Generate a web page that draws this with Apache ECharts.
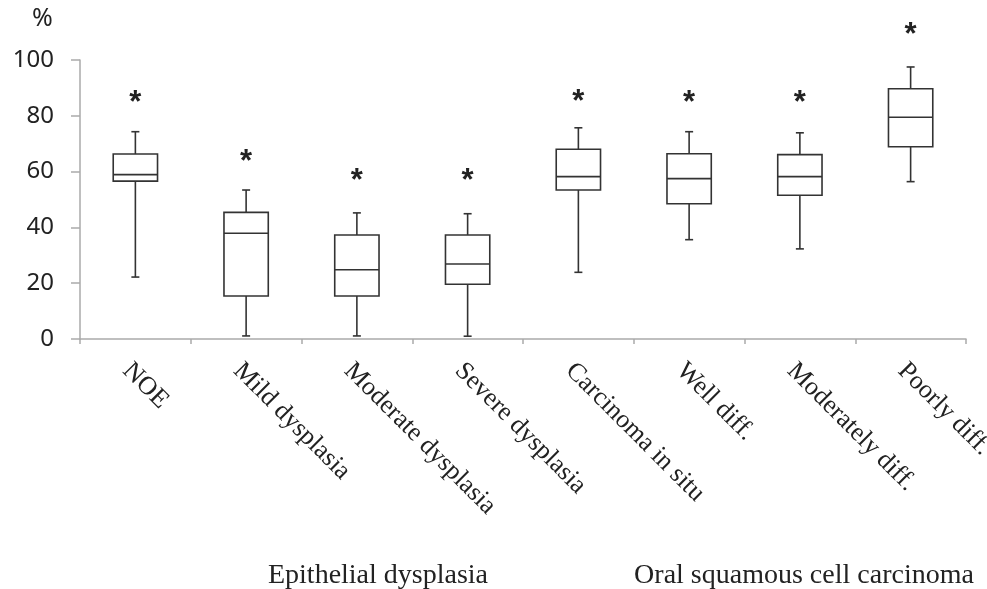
<!DOCTYPE html>
<html>
<head>
<meta charset="utf-8">
<script src="https://cdn.jsdelivr.net/npm/echarts@6/dist/echarts.min.js"></script>
<style>html,body{margin:0;padding:0;background:#fff}#c{width:987px;height:589px}</style>
</head>
<body>
<div id="c"></div>
<script>
var categories = ['NOE','Mild dysplasia','Moderate dysplasia','Severe dysplasia','Carcinoma in situ','Well diff.','Moderately diff.','Poorly diff.'];
var whiskerLow  = [22.2, 1.1, 1.1, 1.0, 23.9, 35.6, 32.3, 56.4];
var q1          = [56.6, 15.4, 15.4, 19.6, 53.4, 48.5, 51.5, 68.9];
var median      = [58.9, 37.9, 24.8, 26.9, 58.2, 57.5, 58.2, 79.5];
var q3          = [66.3, 45.4, 37.3, 37.3, 68.0, 66.4, 66.1, 89.7];
var whiskerHigh = [74.3, 53.4, 45.2, 44.9, 75.7, 74.3, 73.9, 97.5];
var asteriskAt  = [86.3, 65.0, 58.2, 58.2, 86.5, 86.3, 86.3, 110.5];
var yTicks = [0, 20, 40, 60, 80, 100];
var groupLabels = ['Epithelial dysplasia', 'Oral squamous cell carcinoma'];

var boxData = categories.map(function (c, i) {
  return [i, whiskerLow[i], q1[i], median[i], q3[i], whiskerHigh[i], asteriskAt[i]];
});

var chart = echarts.init(document.getElementById('c'));
var lineStyle = { stroke: '#333', lineWidth: 1.6, fill: null };

chart.setOption({
  animation: false,
  backgroundColor: '#fff',
  grid: { left: 80, right: 21, top: 60, bottom: 250, containLabel: false, outerBoundsMode: 'none' },
  xAxis: {
    type: 'category',
    data: categories,
    axisLine: { lineStyle: { color: '#aaa', width: 1.5 } },
    axisTick: { show: true, length: 5, lineStyle: { color: '#aaa', width: 1.5 } },
    axisLabel: {
      rotate: -45,
      margin: 19,
      verticalAlign: 'top',
      lineHeight: 25,
      interval: 0,
      fontFamily: 'Liberation Serif',
      fontSize: 26,
      color: '#222'
    },
    splitLine: { show: false }
  },
  yAxis: {
    type: 'value',
    min: yTicks[0],
    max: yTicks[yTicks.length - 1],
    interval: 20,
    axisLine: { show: true, lineStyle: { color: '#aaa', width: 1.5 } },
    axisTick: { show: true, length: 9, lineStyle: { color: '#aaa', width: 1.5 } },
    axisLabel: {
      margin: 26,
      fontFamily: 'Noto Sans',
      fontSize: 24,
      color: '#222'
    },
    splitLine: { show: false }
  },
  graphic: [
    { type: 'text', left: 32, top: 6, style: { text: '%', font: '25px "Noto Sans"', fill: '#222' } },
    { type: 'text', x: 378, y: 576, style: { text: groupLabels[0], font: '28px "Liberation Serif"', fill: '#222', textAlign: 'center', textVerticalAlign: 'middle' } },
    { type: 'text', x: 804, y: 576, style: { text: groupLabels[1], font: '28px "Liberation Serif"', fill: '#222', textAlign: 'center', textVerticalAlign: 'middle' } }
  ],
  series: [{
    type: 'custom',
    clip: false,
    data: boxData,
    encode: { x: 0, y: [1, 2, 3, 4, 5] },
    renderItem: function (params, api) {
      var i = api.value(0);
      var band = api.size([1, 0])[0];
      var hw = band * 0.2;
      var cw = 4;
      var pLo = api.coord([i, api.value(1)]);
      var pQ1 = api.coord([i, api.value(2)]);
      var pMed = api.coord([i, api.value(3)]);
      var pQ3 = api.coord([i, api.value(4)]);
      var pHi = api.coord([i, api.value(5)]);
      var pAst = api.coord([i, api.value(6)]);
      var x = pMed[0];
      return {
        type: 'group',
        children: [
          { type: 'line', shape: { x1: x, y1: pHi[1], x2: x, y2: pQ3[1] }, style: lineStyle },
          { type: 'line', shape: { x1: x, y1: pQ1[1], x2: x, y2: pLo[1] }, style: lineStyle },
          { type: 'line', shape: { x1: x - cw, y1: pHi[1], x2: x + cw, y2: pHi[1] }, style: lineStyle },
          { type: 'line', shape: { x1: x - cw, y1: pLo[1], x2: x + cw, y2: pLo[1] }, style: lineStyle },
          { type: 'rect', shape: { x: x - hw, y: pQ3[1], width: hw * 2, height: pQ1[1] - pQ3[1] }, style: { stroke: '#333', lineWidth: 1.6, fill: '#fff' } },
          { type: 'line', shape: { x1: x - hw, y1: pMed[1], x2: x + hw, y2: pMed[1] }, style: lineStyle },
          { type: 'text', x: x, y: pAst[1] + 5, style: { text: '*', font: 'bold 31px "Liberation Sans"', fill: '#222', textAlign: 'center', textVerticalAlign: 'middle' } }
        ]
      };
    }
  }]
});
</script>
</body>
</html>
